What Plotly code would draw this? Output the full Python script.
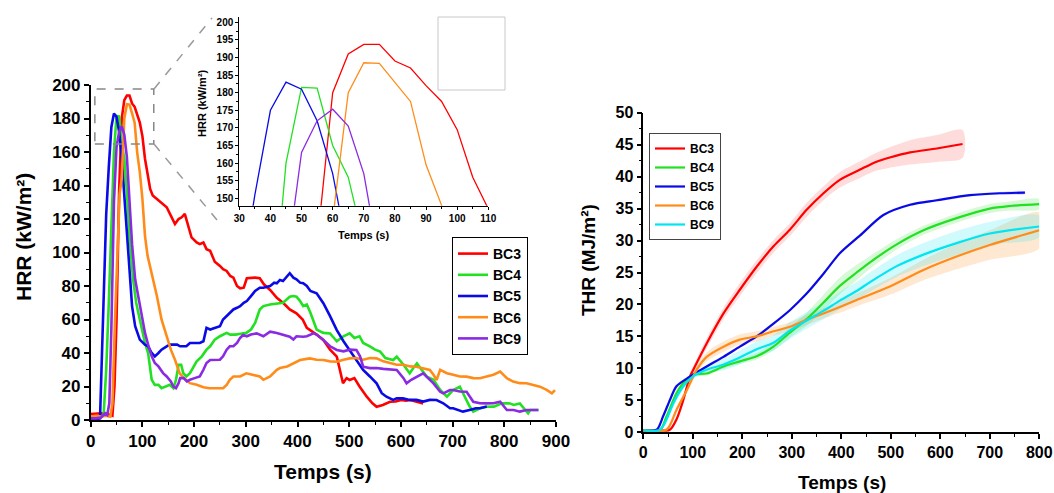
import numpy as np
import plotly.graph_objects as go

# ---------------- HRR data (left chart) ----------------
series_names = ["BC3", "BC4", "BC5", "BC6", "BC9"]

t_bc3 = [0, 10, 20, 30, 38, 42, 46, 50, 55, 60, 65, 70, 75, 80, 85, 90, 95, 100, 105, 110, 115, 120, 128, 137,
         147, 155, 163, 170, 176, 182, 188, 195, 205, 211, 218, 224, 231, 240, 250, 256, 263, 270, 276, 283,
         289, 296, 302, 310, 318, 327, 335, 347, 360, 373, 385, 398, 410, 418, 428, 437, 450, 463, 476, 482,
         488, 495, 501, 510, 520, 534, 545, 553, 565, 579, 590, 600, 610, 618, 630, 643]
hrr_bc3 = [3.5, 3.8, 4.0, 3.8, 3.0, 2.5, 20, 60, 137, 180, 191, 193.7, 193.7, 189, 187, 182, 177.5, 169.5, 156,
           147, 138, 134, 132, 130, 127, 122, 117, 120, 121, 123, 116, 109, 106, 105, 106, 102, 101, 94.5, 92,
           90, 89, 86, 85, 80, 78.6, 79, 84.6, 85, 85, 84.6, 81, 77.6, 73, 69.7, 66, 63.7, 60, 55, 53, 51, 47.8,
           42, 37.8, 30, 21.9, 25, 23.9, 25, 20, 13.9, 10, 7.9, 9, 10.9, 11, 12, 11.5, 11.9, 11, 9.9]

t_bc4 = [0, 10, 20, 25, 30, 35, 40, 45, 50, 55, 60, 65, 70, 75, 82, 88, 95, 105, 111, 118, 124, 131, 137, 145,
         153, 160, 165, 170, 175, 179, 185, 192, 198, 205, 215, 224, 231, 240, 250, 263, 270, 280, 290, 301,
         310, 318, 327, 334, 347, 360, 372, 385, 392, 398, 405, 411, 418, 425, 437, 450, 463, 476, 489, 501,
         510, 520, 527, 540, 550, 560, 570, 585, 592, 605, 617, 624, 631, 640, 650, 663, 676, 689, 701, 714,
         727, 733, 740, 753, 766, 780, 795, 811, 818, 830, 846, 850, 857, 866]
hrr_bc4 = [1.5, 1.5, 1.8, 3, 30, 70, 110, 160, 181.5, 181.3, 165, 156, 136, 110, 84, 70, 60, 46, 40, 24, 21,
           21, 19, 20, 21, 19, 24, 33, 33, 28, 26, 28, 31, 35, 38, 42, 44, 48, 50, 52, 51, 51, 51.5, 52, 54,
           58, 66, 68, 69, 69.7, 70, 73.6, 74, 73.6, 71, 68, 69, 64, 54, 52, 51.7, 47, 50, 51.7, 49, 50, 46,
           44, 42, 40.8, 37, 35.8, 37.8, 33, 27.9, 31, 33.8, 30, 25.9, 24, 17.9, 13.9, 17.9, 19.9, 12, 8, 5,
           7, 7.9, 8, 10, 9.9, 9, 9.9, 4, 6, 6, 6]

t_bc5 = [0, 10, 18, 22, 26, 30, 35, 40, 45, 50, 55, 60, 65, 72, 76, 80, 86, 95, 105, 111, 118, 124, 131, 137,
         147, 153, 160, 167, 173, 179, 185, 192, 198, 205, 211, 218, 224, 231, 240, 250, 256, 263, 269, 276,
         283, 289, 296, 302, 310, 318, 327, 334, 347, 355, 360, 366, 372, 380, 385, 392, 398, 405, 411, 418,
         425, 437, 443, 450, 463, 476, 489, 501, 514, 527, 540, 553, 563, 572, 585, 592, 604, 617, 630, 643,
         656, 669, 682, 695, 701, 710, 720, 733, 745, 753, 766]
hrr_bc5 = [0.5, 0.5, 1, 40, 90, 123, 151, 175, 183, 181, 172, 157, 134, 105, 84, 68, 56, 48, 45, 44, 40, 38,
           40, 42, 44, 45, 45, 45, 44, 43.8, 44, 46, 46, 45.8, 46, 47, 55, 54, 55, 56, 60, 62, 64, 66, 67, 68,
           70, 71, 74, 77, 79, 79, 80, 82, 81.6, 83.6, 83, 86, 87.6, 85, 84, 82, 81.6, 80, 77, 75.6, 73, 69.7,
           62, 53.7, 47, 41.8, 36, 29.9, 26, 21.9, 16, 13.9, 12, 13, 12.9, 12, 12, 11, 12, 11.9, 10, 7, 7, 6,
           5, 6, 7, 7, 8]

t_bc6 = [0, 10, 20, 30, 38, 42, 47, 52, 56, 60, 65, 70, 75, 80, 85, 90, 95, 100, 105, 110, 118, 128, 137, 147,
         155, 163, 172, 180, 192, 205, 218, 230, 243, 256, 263, 269, 276, 289, 301, 315, 327, 334, 347, 360,
         366, 380, 392, 405, 418, 424, 437, 450, 463, 476, 489, 501, 514, 527, 540, 553, 566, 579, 592, 605,
         618, 630, 643, 656, 663, 669, 676, 689, 701, 714, 727, 740, 753, 766, 779, 792, 805, 817, 830, 843,
         856, 869, 882, 892, 898]
hrr_bc6 = [2, 2.5, 2, 2.5, 2, 10, 60, 100, 135, 144, 180, 188.5, 188.3, 183, 177.5, 159.5, 148, 132, 110, 98,
           88, 74, 60, 50, 42, 36, 28, 25, 22, 21, 19.5, 19, 19, 19, 21, 24, 26, 26, 27.9, 27, 26, 24, 26, 30,
           31, 32, 33.8, 35.8, 36.5, 36.8, 36, 35.8, 35, 34.8, 36, 36.8, 37, 36, 37, 36.8, 35, 33.8, 33, 33,
           32, 31.8, 31, 29.9, 27, 23.9, 29.9, 27.9, 27, 26, 25.9, 25, 24.9, 26, 27, 28.9, 25, 22.9, 22, 21.9,
           21, 19.9, 18, 15.9, 17.9]

t_bc9 = [0, 10, 20, 25, 28, 32, 36, 40, 45, 50, 55, 60, 65, 70, 75, 80, 86, 95, 105, 112, 118, 124, 131, 140,
         147, 155, 160, 165, 170, 173, 180, 186, 192, 201, 211, 218, 224, 231, 240, 250, 256, 263, 269, 276,
         283, 289, 295, 302, 310, 321, 334, 347, 360, 372, 385, 392, 398, 411, 418, 431, 437, 450, 463, 476,
         489, 501, 514, 521, 527, 540, 553, 566, 579, 592, 605, 611, 620, 630, 643, 656, 663, 676, 682, 695,
         701, 714, 727, 740, 753, 766, 779, 792, 805, 818, 830, 843, 856, 866]
hrr_bc9 = [1, 1, 1.5, 3, 4, 3, 10, 55, 130, 163, 172, 175.3, 170.5, 157, 132, 105, 84, 68, 52, 44, 38, 34, 32,
           28, 26, 23, 20, 19, 22, 25, 25, 23, 24, 25, 26, 30, 34, 35.8, 36, 36, 38, 42, 44, 44, 46, 49, 50.7,
           50, 51, 51.7, 50, 52.7, 52, 51, 49.7, 48, 50, 49.7, 50, 51.7, 51, 47.8, 44, 41.8, 41, 42, 41.8, 38,
           31.8, 31, 31, 30.5, 30, 29.9, 25, 21.9, 24, 25.9, 27.9, 24, 21.9, 16.9, 15.9, 17.9, 17.9, 17, 16.9,
           10.9, 10, 9.9, 10, 10.9, 6, 6, 5, 6, 6, 6]

# ---------------- THR data (right chart) ----------------
thr_names = ["BC3", "BC4", "BC5", "BC6", "BC9"]
t_thr_bc3 = [0, 50, 54, 67, 81, 94, 101, 128, 162, 195, 229, 263, 296, 330, 364, 397, 438, 470, 498, 539, 593, 645]
thr_bc3 = [0.3, 0.3, 0.4, 2.0, 5.1, 8.7, 9.8, 13.9, 18.6, 22.3, 25.9, 29.1, 31.7, 34.8, 37.4, 39.5, 41.1, 42.3,
           43.0, 43.8, 44.4, 45.1]
sd_bc3 = [0.2, 0.2, 0.3, 0.4, 0.5, 0.6, 0.6, 0.8, 0.9, 1.0, 1.0, 1.0, 1.0, 1.1, 1.1, 1.2, 1.3, 1.4, 1.6, 1.9,
          2.1, 2.2]

t_thr_bc4 = [0, 34, 47, 67, 81, 101, 128, 162, 195, 229, 263, 296, 330, 364, 397, 431, 458, 512, 566, 633, 700,
             741, 800]
thr_bc4 = [0.3, 0.4, 2.5, 6.1, 7.7, 9.0, 9.2, 10.3, 11.1, 11.9, 13.4, 15.6, 17.7, 20.3, 22.9, 25.0, 26.6, 29.4,
           31.6, 33.5, 35.0, 35.4, 35.7]
sd_bc4 = [0.2, 0.2, 0.3, 0.6, 0.5, 0.3, 0.3, 0.3, 0.4, 0.5, 0.6, 0.8, 1.0, 1.2, 1.3, 1.2, 1.0, 0.8, 0.7, 0.7,
          0.7, 0.7, 0.8]

t_thr_bc5 = [0, 27, 40, 54, 67, 94, 128, 162, 195, 229, 263, 296, 330, 364, 397, 438, 485, 539, 593, 660, 720, 771]
thr_bc5 = [0.3, 0.4, 2.5, 5.1, 7.2, 8.7, 10.3, 11.8, 13.4, 15.0, 17.0, 19.1, 21.7, 24.8, 28.0, 30.8, 34.0, 35.6,
           36.3, 37.1, 37.4, 37.5]
sd_bc5 = [0.2, 0.2, 0.2, 0.3, 0.3, 0.2, 0.2, 0.2, 0.2, 0.2, 0.2, 0.2, 0.2, 0.2, 0.2, 0.2, 0.2, 0.2, 0.2, 0.2,
          0.2, 0.2]

t_thr_bc6 = [0, 47, 67, 88, 108, 128, 162, 195, 229, 263, 296, 330, 364, 397, 431, 498, 566, 633, 700, 800]
thr_bc6 = [0.3, 0.4, 3.5, 6.6, 9.8, 11.8, 13.4, 14.5, 15.0, 15.8, 16.5, 17.6, 18.6, 19.6, 20.7, 22.8, 25.4, 27.5,
           29.3, 31.6]
sd_bc6 = [0.2, 0.3, 0.4, 0.5, 0.6, 0.7, 0.8, 0.8, 0.8, 0.7, 0.7, 0.8, 0.8, 0.9, 1.0, 1.3, 1.6, 2.0, 2.3, 2.8]

t_thr_bc9 = [0, 34, 47, 61, 81, 101, 128, 162, 195, 229, 263, 296, 330, 364, 397, 431, 458, 512, 566, 633, 700, 800]
thr_bc9 = [0.3, 0.4, 2.0, 4.6, 7.2, 8.8, 9.8, 10.6, 11.7, 13.0, 14.0, 15.9, 17.5, 19.0, 20.6, 22.1, 23.5, 26.0,
           27.8, 29.6, 31.1, 32.2]
sd_bc9 = [0.2, 0.3, 0.3, 0.5, 0.4, 0.4, 0.6, 0.9, 1.1, 1.2, 1.2, 1.3, 1.3, 1.3, 1.4, 1.4, 1.5, 1.7, 1.8, 1.9,
          1.8, 1.7]

hrr_colors = ["#ff0000", "#22e022", "#0a0ae6", "#ff8c1a", "#8a2be2"]
thr_colors = ["#ff0000", "#22e022", "#0a0ae6", "#ff8c1a", "#00e5f0"]
thr_fill = ["rgba(255,60,60,0.18)", "rgba(40,220,40,0.18)", "rgba(10,10,230,0.15)",
            "rgba(255,140,30,0.2)", "rgba(0,229,240,0.18)"]

W, H = 1054, 493
FONT = "Arial, Liberation Sans, sans-serif"

fig = go.Figure()

hrr_t = [t_bc3, t_bc4, t_bc5, t_bc6, t_bc9]
hrr_v = [hrr_bc3, hrr_bc4, hrr_bc5, hrr_bc6, hrr_bc9]

# main HRR
for name, t, v, c in zip(series_names, hrr_t, hrr_v, hrr_colors):
    fig.add_trace(go.Scatter(x=t, y=v, mode="lines", name=name, line=dict(color=c, width=2.6),
                             xaxis="x", yaxis="y", legend="legend"))
# inset HRR
for name, t, v, c in zip(series_names, hrr_t, hrr_v, hrr_colors):
    fig.add_trace(go.Scatter(x=t, y=v, mode="lines", name=name, line=dict(color=c, width=1.3),
                             xaxis="x2", yaxis="y2", showlegend=False))

# THR bands + lines
thr_t = [t_thr_bc3, t_thr_bc4, t_thr_bc5, t_thr_bc6, t_thr_bc9]
thr_v = [thr_bc3, thr_bc4, thr_bc5, thr_bc6, thr_bc9]
thr_sd = [sd_bc3, sd_bc4, sd_bc5, sd_bc6, sd_bc9]
for t, v, s, fc in zip(thr_t, thr_v, thr_sd, thr_fill):
    t = np.array(t, float); v = np.array(v, float); s = np.array(s, float)
    fig.add_trace(go.Scatter(x=np.concatenate([t, t[::-1]]), y=np.concatenate([v + s, (v - s)[::-1]]),
                             fill="toself", fillcolor=fc, line=dict(width=0, shape="spline", smoothing=0.8),
                             mode="lines", xaxis="x3", yaxis="y3", showlegend=False, hoverinfo="skip"))
for name, t, v, c in zip(thr_names, thr_t, thr_v, thr_colors):
    fig.add_trace(go.Scatter(x=t, y=v, mode="lines", name=name,
                             line=dict(color=c, width=2.2, shape="spline", smoothing=0.8),
                             xaxis="x3", yaxis="y3", legend="legend2"))


def px_x(p):
    return p / W


def px_y(p):
    return 1 - p / H


def axis(domain, rng, dtick, minor, size, anchor, lw=1.6, tl=5, mtl=3):
    return dict(domain=domain, range=rng, anchor=anchor, showline=True, linecolor="black", linewidth=lw,
                ticks="outside", ticklen=tl, tickwidth=lw, tickcolor="black", dtick=dtick, tick0=0,
                minor=dict(dtick=minor, ticks="outside", ticklen=mtl, tickwidth=lw * 0.8, tickcolor="black"),
                showgrid=False, zeroline=False, mirror=False, automargin=False,
                tickfont=dict(family=FONT, size=size, color="black", weight="bold"))


fig.update_layout(
    width=W, height=H, margin=dict(l=0, r=0, t=0, b=0, pad=0, autoexpand=False),
    paper_bgcolor="white", plot_bgcolor="rgba(0,0,0,0)",
    xaxis=axis([px_x(90.7), px_x(556)], [0, 900], 100, 50, 17, "y"),
    yaxis=axis([px_y(420), px_y(85)], [0, 200], 20, 10, 17, "x"),
    xaxis2=axis([px_x(239.3), px_x(488.3)], [30, 110], 10, 5, 10, "y2", lw=1, tl=3, mtl=2),
    yaxis2=axis([px_y(205.7), px_y(17.3)], [147.9, 201.4], 5, 2.5, 10, "x2", lw=1, tl=3, mtl=2),
    xaxis3=axis([px_x(643.3), px_x(1039.3)], [0, 800], 100, 50, 16, "y3"),
    yaxis3=axis([px_y(432.3), px_y(112.7)], [0, 50], 5, 2.5, 16, "x3"),
    legend=dict(x=px_x(452), y=px_y(237), xanchor="left", yanchor="top", bgcolor="white",
                bordercolor="black", borderwidth=1, font=dict(family=FONT, size=14, color="black", weight="bold"),
                tracegroupgap=0),
    legend2=dict(x=px_x(649), y=px_y(133), xanchor="left", yanchor="top", bgcolor="white",
                 bordercolor="#444", borderwidth=1, font=dict(family=FONT, size=12, color="black", weight="bold"),
                 tracegroupgap=0),
    showlegend=True,
)

titles = [
    ("HRR (kW/m²)", 23, 237, -90, 21),
    ("Temps (s)", 323, 471, 0, 21),
    ("THR (MJ/m²)", 588, 260, -90, 19),
    ("Temps (s)", 842, 482, 0, 19),
    ("HRR (kW/m²)", 202, 103, -90, 11),
    ("Temps (s)", 363, 235, 0, 11),
]
for txt, x, y, ang, sz in titles:
    fig.add_annotation(text=txt, x=px_x(x), y=px_y(y), xref="paper", yref="paper", showarrow=False,
                       textangle=ang, xanchor="center", yanchor="middle",
                       font=dict(family=FONT, size=sz, color="black", weight="bold"))

# zoom rectangle and connectors
fig.add_shape(type="rect", xref="x", yref="y", x0=8, x1=122, y0=164.8, y1=197.6,
              line=dict(color="#888888", width=1.5, dash="dash"))
fig.add_shape(type="line", xref="paper", yref="paper", x0=px_x(154), y0=px_y(89), x1=px_x(212), y1=px_y(18),
              line=dict(color="#999999", width=1.5, dash="dash"))
fig.add_shape(type="line", xref="paper", yref="paper", x0=px_x(154), y0=px_y(144), x1=px_x(217), y1=px_y(220),
              line=dict(color="#999999", width=1.5, dash="dash"))
# empty legend box in inset
fig.add_shape(type="rect", xref="paper", yref="paper", x0=px_x(438), x1=px_x(505), y0=px_y(90), y1=px_y(17),
              line=dict(color="#c8c8c8", width=1))

fig.write_html("out.html", config={"displayModeBar": False},
               post_script="document.body.style.margin='0px';document.body.style.overflow='hidden';")
